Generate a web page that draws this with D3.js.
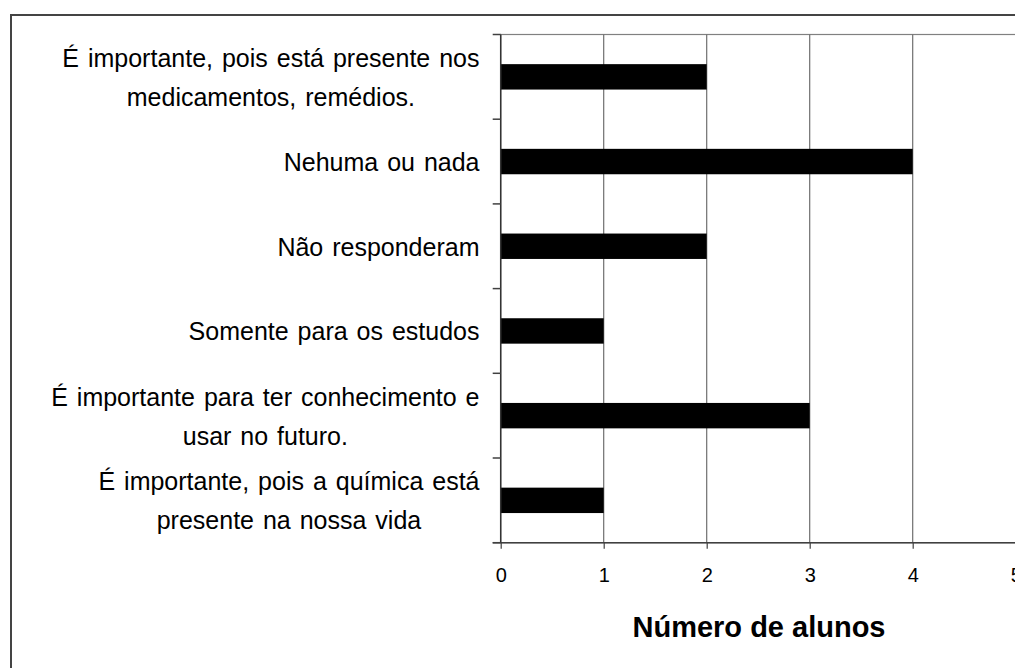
<!DOCTYPE html>
<html>
<head>
<meta charset="utf-8">
<script src="https://cdn.jsdelivr.net/npm/d3@7"></script>
<style>
  html, body { margin: 0; padding: 0; background: #fff; overflow: hidden; }
  svg { display: block; }
  text { font-family: Arial, "Liberation Sans", sans-serif; fill: #000; }
</style>
</head>
<body>
<svg id="chart" width="1015" height="668"></svg>
<script>
// ---- data ----
const categories = [
  "É importante, pois está presente nos\nmedicamentos, remédios.",
  "Nehuma ou nada",
  "Não responderam",
  "Somente para os estudos",
  "É importante para ter conhecimento e\nusar no futuro.",
  "É importante, pois a química está\npresente na nossa vida"
];
const values = [2, 4, 2, 1, 3, 1];
const xTicks = [0, 1, 2, 3, 4, 5];
const xTitle = "Número de alunos";

// ---- layout ----
const svg = d3.select("#chart");
const pLeft = 500.7, pRight = 1015.7, pTop = 34.5, pBottom = 542.7;

const x = d3.scaleLinear().domain([0, 5]).range([pLeft, pRight]);
const y = d3.scaleBand().domain(categories).range([pTop, pBottom]).paddingInner(0.7).paddingOuter(0.35);
const yb = d3.scaleBand().domain(categories).range([pTop, pBottom]);

// outer border
svg.append("rect").attr("x", 11).attr("y", 15).attr("width", 1100).attr("height", 800)
  .attr("fill", "none").attr("stroke", "#444").attr("stroke-width", 2);

// plot area border (top / right)
svg.append("rect").attr("x", pLeft).attr("y", pTop).attr("width", pRight - pLeft).attr("height", pBottom - pTop)
  .attr("fill", "none").attr("stroke", "#808080").attr("stroke-width", 1.2);

// gridlines
svg.append("g").selectAll("line").data(xTicks.filter(d => d > 0)).join("line")
  .attr("x1", d => x(d)).attr("x2", d => x(d)).attr("y1", pTop).attr("y2", pBottom)
  .attr("stroke", "#6e6e6e").attr("stroke-width", 1.2);

// bars
svg.append("g").selectAll("rect").data(values).join("rect")
  .attr("x", x(0))
  .attr("y", (d, i) => y(categories[i]))
  .attr("width", d => x(d) - x(0))
  .attr("height", y.bandwidth())
  .attr("fill", "#000");

// x axis
const xAxis = d3.axisBottom(x).tickValues(xTicks).tickFormat(d3.format("d"))
  .tickSize(6).tickPadding(19).tickSizeOuter(0);
const gx = svg.append("g").attr("transform", `translate(0,${pBottom})`).call(xAxis);
gx.select(".domain").remove();
gx.selectAll(".tick line").attr("stroke", "#404040").attr("stroke-width", 1.2);
gx.selectAll(".tick text").attr("font-size", 20).attr("font-family", "Arial, 'Liberation Sans', sans-serif").attr("fill", "#000");
svg.append("line").attr("x1", 492.7).attr("x2", pRight).attr("y1", pBottom).attr("y2", pBottom)
  .attr("stroke", "#404040").attr("stroke-width", 1.5);

// y axis line and tick marks at band boundaries
svg.append("line").attr("x1", pLeft).attr("x2", pLeft).attr("y1", pTop).attr("y2", pBottom)
  .attr("stroke", "#333").attr("stroke-width", 1.5);
const bounds = categories.map(c => yb(c)).concat([pBottom]);
svg.append("g").selectAll("line").data(bounds).join("line")
  .attr("x1", 492.7).attr("x2", pLeft).attr("y1", d => d).attr("y2", d => d)
  .attr("stroke", "#404040").attr("stroke-width", 1.5);

// category labels (centered lines, block right-aligned)
const labelRight = 479.5, lineGap = 39, fs = 25;
categories.forEach(c => {
  const lines = c.split("\n");
  const cy = yb(c) + yb.bandwidth() / 2;
  const g = svg.append("g");
  const texts = lines.map((ln, j) => g.append("text")
    .attr("font-size", fs)
    .attr("word-spacing", 2)
    .attr("y", cy + (j - (lines.length - 1) / 2) * lineGap + 9.5)
    .attr("text-anchor", "middle")
    .text(ln));
  const w = d3.max(texts, t => t.node().getComputedTextLength());
  texts.forEach(t => t.attr("x", labelRight - w / 2));
});

// x axis title
svg.append("text").attr("x", 759).attr("y", 637).attr("text-anchor", "middle")
  .attr("font-size", 29).attr("font-weight", "bold").text(xTitle);
</script>
</body>
</html>
